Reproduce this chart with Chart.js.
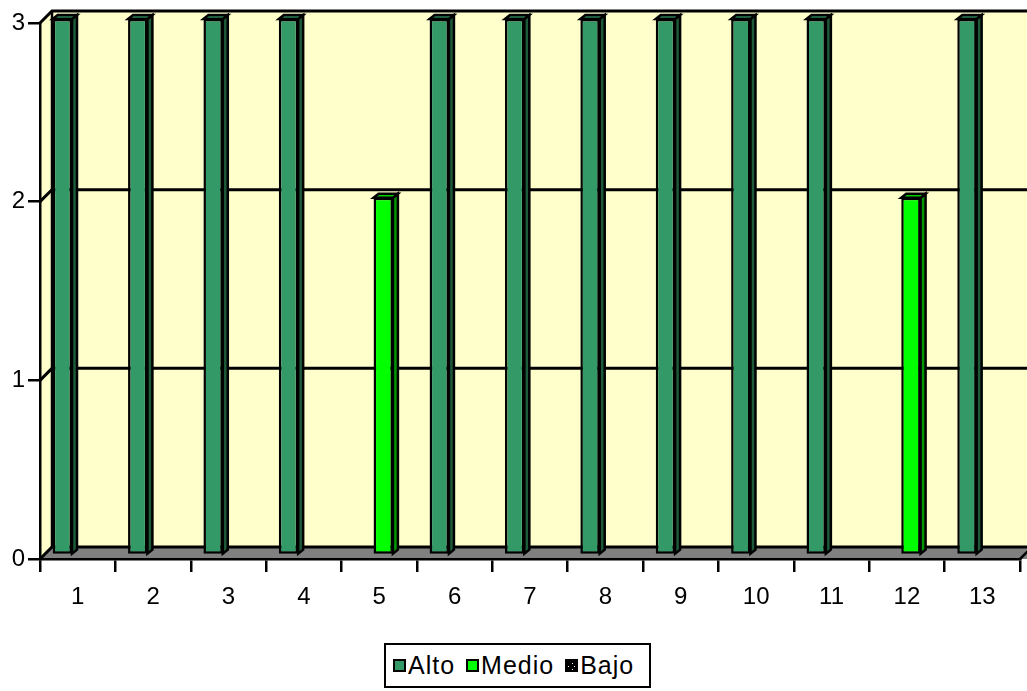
<!DOCTYPE html>
<html>
<head>
<meta charset="utf-8">
<script src="https://cdn.jsdelivr.net/npm/chart.js@4"></script>
<style>
  body { margin: 0; background: #fff; }
  #wrap { position: relative; width: 1027px; height: 691px; overflow: hidden; }
  #legend {
    position: absolute; left: 384px; top: 643px; width: 267px; height: 45px;
    box-sizing: border-box; border: 2px solid #000; background: #fff;
    display: flex; align-items: center; padding-left: 7px;
    font: 25px "Liberation Sans", Arial, sans-serif; letter-spacing: 1px; color: #000;
  }
  #legend .item { display: flex; align-items: center; margin-right: 11px; }
  #legend canvas { margin-right: 2px; }
</style>
</head>
<body>
<div id="wrap">
  <canvas id="chart" width="1027" height="691"></canvas>
  <div id="legend"></div>
</div>
<script>
// Data
const categories = ["1", "2", "3", "4", "5", "6", "7", "8", "9", "10", "11", "12", "13"];
const alto  = [3, 3, 3, 3, 0, 3, 3, 3, 3, 3, 3, 0, 3];
const medio = [0, 0, 0, 0, 2, 0, 0, 0, 0, 0, 0, 2, 0];
const bajo  = [0, 0, 0, 0, 0, 0, 0, 0, 0, 0, 0, 0, 0];
const yTicks = [0, 1, 2, 3];

// 3D look
const WALL_DX = 12, WALL_DY = -12;   // depth of the walls
const SHIFT_X = 4, SHIFT_Y = -4;     // bars sit a bit behind the front axis
const BAR_DX = 5, BAR_DY = -4;       // depth of each bar

function dotPattern() {
    const c = document.createElement("canvas");
    c.width = 6; c.height = 6;
    const g = c.getContext("2d");
    g.fillStyle = "#000";
    g.fillRect(0, 0, 6, 6);
    g.fillStyle = "#fff";
    g.fillRect(3, 1, 1, 1);
    g.fillRect(1, 4, 1, 1);
    return g.createPattern(c, "repeat");
}

function poly(ctx, pts, fill, stroke, lw) {
    ctx.beginPath();
    ctx.moveTo(pts[0][0], pts[0][1]);
    for (let i = 1; i < pts.length; i++) ctx.lineTo(pts[i][0], pts[i][1]);
    ctx.closePath();
    if (fill) { ctx.fillStyle = fill; ctx.fill(); }
    if (stroke) { ctx.strokeStyle = stroke; ctx.lineWidth = lw || 1; ctx.stroke(); }
}

const walls = {
    id: "walls",
    beforeDraw(chart) {
        const { ctx, chartArea: a, scales } = chart;
        const x0 = a.left, x1 = a.right, yt = a.top, yb = a.bottom;
        ctx.save();
        // back wall, left wall, floor
        ctx.fillStyle = "#FFFFCC";
        ctx.fillRect(x0 + WALL_DX, yt + WALL_DY, x1 - x0 + 30, yb - yt);
        poly(ctx, [[x0, yt], [x0 + WALL_DX, yt + WALL_DY], [x0 + WALL_DX, yb + WALL_DY], [x0, yb]], "#FFFFCC");
        poly(ctx, [[x0, yb], [x0 + WALL_DX, yb + WALL_DY], [x1 + WALL_DX + 30, yb + WALL_DY], [x1 + 30, yb]], "#808080");

        // grid lines on the walls
        ctx.strokeStyle = "#000";
        ctx.lineWidth = 3;
        yTicks.forEach((v) => {
            const py = scales.y.getPixelForValue(v);
            ctx.beginPath();
            ctx.moveTo(x0, py);
            ctx.lineTo(x0 + WALL_DX, py + WALL_DY);
            ctx.lineTo(x1 + WALL_DX + 30, py + WALL_DY);
            ctx.stroke();
        });
        // wall corner and floor right edge
        ctx.lineWidth = 2.5;
        ctx.beginPath();
        ctx.moveTo(x0 + WALL_DX, yt + WALL_DY);
        ctx.lineTo(x0 + WALL_DX, yb + WALL_DY);
        ctx.moveTo(x1, yb);
        ctx.lineTo(x1 + WALL_DX, yb + WALL_DY);
        ctx.stroke();
        ctx.restore();
    },
    beforeDatasetsDraw(chart) {
        chart.ctx.save();
        chart.ctx.translate(SHIFT_X, SHIFT_Y);
    },
    afterDatasetsDraw(chart) {
        const ctx = chart.ctx;
        chart.data.datasets.forEach((ds, i) => {
            const meta = chart.getDatasetMeta(i);
            meta.data.forEach((bar) => {
                const { x, y, base, width } = bar.getProps(["x", "y", "base", "width"], true);
                if (Math.abs(base - y) < 1) return;
                const l = x - width / 2, r = x + width / 2;
                poly(ctx, [[r, y], [r + BAR_DX, y + BAR_DY], [r + BAR_DX, base + BAR_DY], [r, base]], ds.sideColor, "#000", 2.5);
                poly(ctx, [[l, y], [l + BAR_DX, y + BAR_DY], [r + BAR_DX, y + BAR_DY], [r, y]], ds.topColor, "#000", 2.5);
            });
        });
        ctx.restore();
    },
};

const axisFont = { family: "'Liberation Sans', Arial, sans-serif", size: 24 };

const chart = new Chart(document.getElementById("chart"), {
    type: "bar",
    data: {
        labels: categories,
        datasets: [
            { label: "Alto", data: alto, backgroundColor: "#339966", sideColor: "#1c5a3a", topColor: "#2a7d54" },
            { label: "Medio", data: medio, backgroundColor: "#00FF00", sideColor: "#009400", topColor: "#00cc00" },
            { label: "Bajo", data: bajo, backgroundColor: dotPattern(), sideColor: "#000", topColor: "#000" },
        ],
    },
    options: {
        responsive: false,
        animation: false,
        devicePixelRatio: 1,
        layout: { padding: { top: 23, right: 7, left: 0, bottom: 0 } },
        datasets: {
            bar: {
                borderColor: "#000",
                borderWidth: 2.5,
                borderSkipped: false,
                barPercentage: 1,
                categoryPercentage: 0.77,
                clip: false,
            },
        },
        plugins: {
            legend: { display: false },
            tooltip: { enabled: false },
        },
        scales: {
            x: {
                afterFit: (scale) => { scale.height = 132; },
                border: { color: "#000", width: 2.5 },
                grid: { drawOnChartArea: false, color: "#000", lineWidth: 2.5, tickLength: 13 },
                ticks: { color: "#000", font: axisFont, padding: 11, maxRotation: 0 },
            },
            y: {
                min: 0,
                max: 3,
                afterFit: (scale) => { scale.width = 40; },
                afterBuildTicks: (scale) => { scale.ticks = yTicks.map((v) => ({ value: v })); },
                border: { color: "#000", width: 2.5 },
                grid: { drawOnChartArea: false, color: "#000", lineWidth: 2.5, tickLength: 12 },
                ticks: { color: "#000", font: axisFont, padding: 3 },
            },
        },
    },
    plugins: [walls],
});

// Legend built from the datasets
const legendEl = document.getElementById("legend");
chart.data.datasets.forEach((ds) => {
    const item = document.createElement("span");
    item.className = "item";
    const sw = document.createElement("canvas");
    sw.width = 13; sw.height = 13;
    const g = sw.getContext("2d");
    g.fillStyle = ds.backgroundColor;
    g.fillRect(0, 0, 13, 13);
    g.strokeStyle = "#000";
    g.lineWidth = 2;
    g.strokeRect(1, 1, 11, 11);
    const txt = document.createElement("span");
    txt.textContent = ds.label;
    item.appendChild(sw);
    item.appendChild(txt);
    legendEl.appendChild(item);
});
</script>
</body>
</html>
